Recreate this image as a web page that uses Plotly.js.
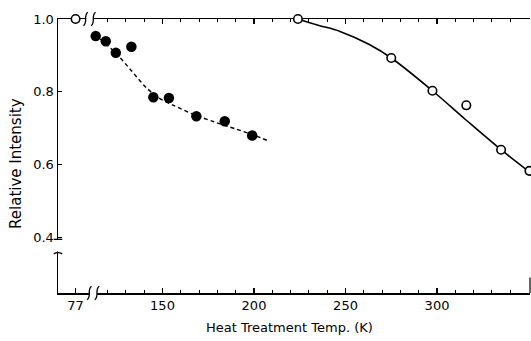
<!DOCTYPE html>
<html><head><meta charset="utf-8">
<script src="https://cdn.plot.ly/plotly-3.0.1.min.js"></script>
<style>html,body{margin:0;padding:0;background:#fff}#chart{width:531px;height:341px}</style>
</head><body><div id="chart"></div>
<script>
// Broken x axis: 77 K is drawn left of the break at a stand-in position
const POS_77 = 102.5;

// Filled circles + dashed curve
const filledTemp = [113.5, 119, 124.5, 133, 145, 153.5, 168.5, 184, 199];
const filledInt  = [0.953, 0.939, 0.907, 0.924, 0.785, 0.783, 0.733, 0.719, 0.680];
const dashTemp = [113, 124.4, 133, 141, 148, 156, 166, 178, 190, 200, 207];
const dashInt  = [0.958, 0.907, 0.858, 0.812, 0.783, 0.763, 0.740, 0.718, 0.698, 0.681, 0.667];

// Open circles + solid curve
const openTemp = [77, 224, 275, 297.5, 316, 335, 350.5];
const openInt  = [1.0, 1.0, 0.893, 0.803, 0.763, 0.641, 0.583];
const solidTemp = [224, 235, 247, 263, 275, 297.5, 316, 335, 351];
const solidInt  = [1.0, 0.983, 0.966, 0.930, 0.893, 0.803, 0.722, 0.641, 0.578];

const xTickVals = [77, 150, 200, 250, 300];
const xTickText = ['77', '150', '200', '250', '300'];
const xMinor = [120, 130, 140, 160, 170, 180, 190, 210, 220, 230, 240, 260, 270, 280, 290, 310, 320, 330, 340];
const yTickVals = [0.4, 0.6, 0.8, 1.0];
const yTickText = ['0.4', '0.6', '0.8', '1.0'];
const xTitle = 'Heat Treatment Temp. (K)';
const yTitle = 'Relative Intensity';

const xp = t => (t === 77 ? POS_77 : t);

const FONT = 'DejaVu Sans, Verdana, sans-serif';

const traces = [
  {x: dashTemp, y: dashInt, mode: 'lines', line: {color: '#000', width: 1.4, dash: '4px,3px', shape: 'spline', smoothing: 0.8}, hoverinfo: 'skip', cliponaxis: false},
  {x: solidTemp, y: solidInt, mode: 'lines', line: {color: '#000', width: 1.6, shape: 'spline'}, hoverinfo: 'skip', cliponaxis: false},
  {x: filledTemp, y: filledInt, mode: 'markers', marker: {color: '#000', size: 10.5}, cliponaxis: false},
  {x: openTemp.map(xp), y: openInt, mode: 'markers', marker: {color: '#fff', size: 8.5, line: {color: '#000', width: 1.6}}, cliponaxis: false}
];

function sCurve(xc, y) {
  // small wavy break glyph on a horizontal axis (x in data, y in paper)
  return {type: 'path', xref: 'x', yref: 'paper', layer: 'above',
    path: `M ${xc-1.2},${y-0.025} C ${xc+1.5},${y-0.01} ${xc-1.5},${y+0.01} ${xc+1.2},${y+0.025}`,
    line: {color: '#000', width: 1.3}};
}

const shapes = [
  // bottom x-axis break
  {type: 'rect', xref: 'x', yref: 'paper', x0: 110.3, x1: 114.3, y0: -0.01, y1: 0.01, fillcolor: '#fff', line: {width: 0}, layer: 'above'},
  sCurve(110, 0), sCurve(114.2, 0),
  // top x-axis break
  {type: 'rect', xref: 'x', yref: 'paper', x0: 108.3, x1: 112.3, y0: 0.99, y1: 1.01, fillcolor: '#fff', line: {width: 0}, layer: 'above'},
  sCurve(108, 1), sCurve(112.2, 1),
  // y-axis break
  {type: 'rect', xref: 'paper', yref: 'y', x0: -0.01, x1: 0.01, y0: 0.362, y1: 0.394, fillcolor: '#fff', line: {width: 0}, layer: 'above'},
  {type: 'line', xref: 'paper', yref: 'y', x0: -0.009, x1: 0.009, y0: 0.395, y1: 0.395, line: {color: '#000', width: 1.3}, layer: 'above'},
  {type: 'path', xref: 'paper', yref: 'y', path: 'M -0.009,0.355 Q 0,0.362 0.009,0.355', line: {color: '#000', width: 1.3}, layer: 'above'},
  // right axis stub at the bottom
  {type: 'line', xref: 'paper', yref: 'y', x0: 1, x1: 1, y0: 0.2476, y1: 0.29, line: {color: '#000', width: 1.2}, layer: 'above'}
];

const annotations = [
  {text: xTitle, xref: 'paper', yref: 'paper', x: 0.4915, y: 0, yshift: -34, xanchor: 'center', yanchor: 'middle', showarrow: false, font: {family: FONT, size: 13, color: '#000'}},
  {text: yTitle, xref: 'paper', yref: 'paper', x: 0, xshift: -42, y: 0.471, xanchor: 'center', yanchor: 'middle', textangle: -90, showarrow: false, font: {family: FONT, size: 15, color: '#000'}}
];

const layout = {
  width: 531, height: 341,
  margin: {l: 58, r: 1, t: 19, b: 48},
  paper_bgcolor: '#fff', plot_bgcolor: '#fff',
  showlegend: false,
  font: {family: FONT, size: 13, color: '#000'},
  xaxis: {
    range: [92.9, 350.8], showgrid: false, zeroline: false,
    showline: true, linecolor: '#000', linewidth: 1.5, mirror: 'allticks',
    tickmode: 'array', tickvals: xTickVals.map(xp), ticktext: xTickText,
    ticks: 'inside', ticklen: 5, tickwidth: 1.2, tickcolor: '#000',
    minor: {tickmode: 'array', tickvals: xMinor, ticks: 'inside', ticklen: 3, tickwidth: 1, tickcolor: '#000'},
    tickfont: {family: FONT, size: 13},
    layer: 'below traces'
  },
  yaxis: {
    range: [0.2476, 1.0], showgrid: false, zeroline: false,
    showline: true, linecolor: '#000', linewidth: 1.5, mirror: false,
    tickmode: 'array', tickvals: yTickVals, ticktext: yTickText,
    ticks: 'inside', ticklen: 4, tickwidth: 1.2, tickcolor: '#000',
    tickfont: {family: FONT, size: 13},
    layer: 'below traces'
  },
  shapes: shapes,
  annotations: annotations
};

Plotly.newPlot('chart', traces, layout, {staticPlot: true, displayModeBar: false});
</script>
</body></html>
